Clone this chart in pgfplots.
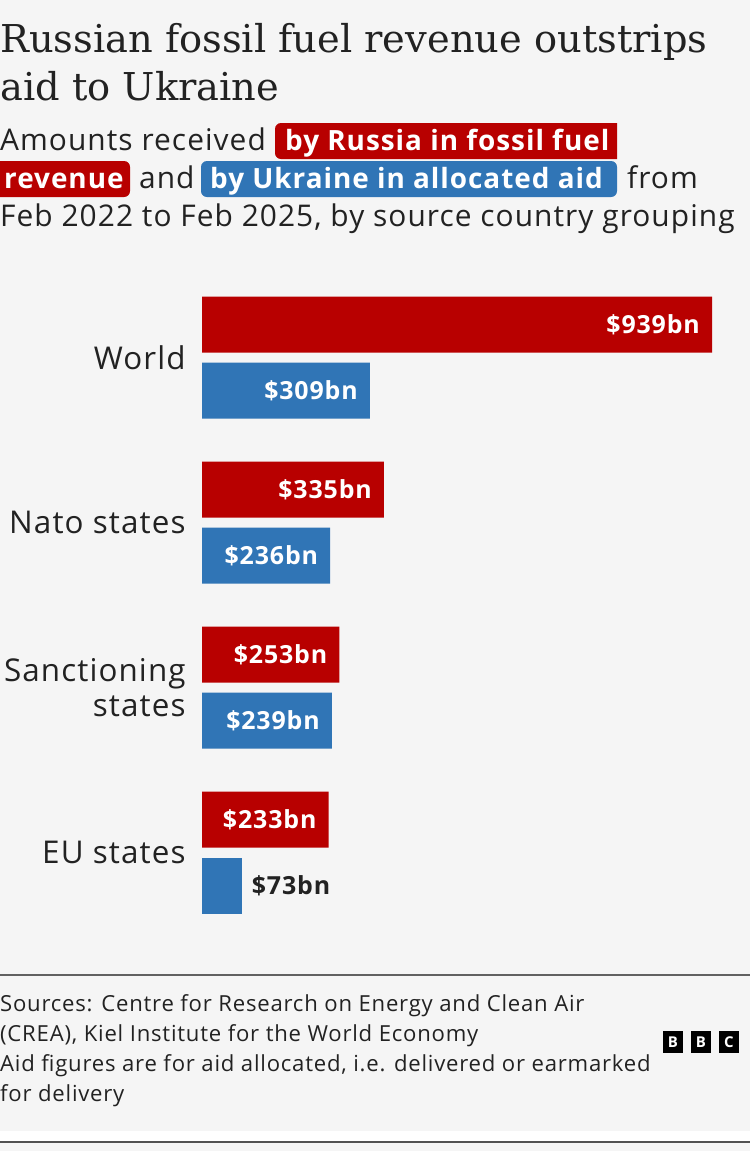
\documentclass[border=0pt]{standalone}
\usepackage{pgfplots}
\pgfplotsset{compat=1.18}
\usepackage{fontspec}
\setmainfont{Open Sans}[LetterSpace=3.5]
\newfontfamily\titlefont{DejaVu Serif}
\definecolor{bbcred}{HTML}{B80000}
\definecolor{bbcblue}{HTML}{3075B6}
\definecolor{bgcol}{HTML}{F5F5F5}
\definecolor{ink}{HTML}{222222}

\newcommand{\sub}{\fontsize{30}{38}\selectfont}
\newcommand{\subb}{\fontsize{28}{38}\selectfont\bfseries}
\newcommand{\foot}{\fontsize{22.2}{30}\selectfont}

\begin{document}
\begin{tikzpicture}[x=1bp,y=-1bp]
\useasboundingbox (0,0) rectangle (750,1151);
% background and rules
\fill[bgcol] (0,0) rectangle (750,1131);
\fill[white] (0,1131) rectangle (750,1151);
\fill[bgcol] (0,1143) rectangle (750,1151);
\fill[black!62] (0,974) rectangle (750,976);
\fill[black!68] (0,1141) rectangle (750,1143);

% title
\node[anchor=base west, inner sep=0, text=ink, font=\titlefont\fontsize{38.5}{48}\selectfont] at (0,52) {Russian fossil fuel revenue outstrips};
\node[anchor=base west, inner sep=0, text=ink, font=\titlefont\fontsize{38.5}{48}\selectfont] at (0,100) {aid to Ukraine};

% subtitle highlight boxes
\fill[bbcred] (617,123) [rounded corners=6] -- (275,123) -- (275,159) [sharp corners] -- (617,159) -- cycle;
\fill[bbcred] (0,161) [rounded corners=6] -- (130,161) -- (130,197) [sharp corners] -- (0,197) -- cycle;
\fill[bbcblue, rounded corners=6] (201,161) rectangle (617,197);

% subtitle text
\node[anchor=base west, inner sep=0, text=ink, font=\sub] at (0,150) {Amounts received};
\node[anchor=base west, inner sep=0, text=white, font=\subb] at (285,150) {by Russia in fossil fuel};
\node[anchor=base west, inner sep=0, text=white, font=\subb] at (4,188) {revenue};
\node[anchor=base west, inner sep=0, text=ink, font=\sub] at (139,188) {and};
\node[anchor=base west, inner sep=0, text=white, font=\subb] at (210,188) {by Ukraine in allocated aid};
\node[anchor=base west, inner sep=0, text=ink, font=\sub] at (627,188) {from};
\node[anchor=base west, inner sep=0, text=ink, font=\sub] at (0,226) {Feb 2022 to Feb 2025, by source country grouping};

% chart
\begin{axis}[
  at={(202bp,-935bp)}, anchor=south west,
  scale only axis, width=510bp, height=660bp,
  xmin=0, xmax=939, ymin=-0.5, ymax=3.5,
  y dir=reverse,
  xbar, bar width=0.3394,
  axis line style={draw=none}, tick style={draw=none},
  xtick=\empty,
  ytick={0,1,2,3},
  yticklabels={World, Nato states, Sanctioning\\states, EU states},
  yticklabel style={anchor=east, inner sep=0pt, xshift=-12bp, align=right, text=ink,
    font=\fontsize{31.5}{35}\selectfont},
  point meta=explicit symbolic,
  nodes near coords={\$\pgfplotspointmeta bn},
  every node near coord/.append style={anchor=east, xshift=-12bp, inner sep=0pt,
    text=white, font=\fontsize{25}{30}\selectfont\bfseries},
  clip=false,
]
\addplot[fill=bbcred, draw=none, bar shift=-0.2] coordinates {
  (939,0) [939] (335,1) [335] (253,2) [253] (233,3) [233]};
\addplot[fill=bbcblue, draw=none, bar shift=0.2] coordinates {
  (309,0) [309] (236,1) [236] (239,2) [239]};
\addplot[fill=bbcblue, draw=none, bar shift=0.2,
  every node near coord/.append style={anchor=west, xshift=22bp, text=ink}] coordinates {
  (73,3) [73]};
\end{axis}

% footer
\node[anchor=base west, inner sep=0, text=ink, font=\foot] at (0,1011) {Sources: Centre for Research on Energy and Clean Air};
\node[anchor=base west, inner sep=0, text=ink, font=\foot] at (0,1041) {(CREA), Kiel Institute for the World Economy};
\node[anchor=base west, inner sep=0, text=ink, font=\foot] at (0,1071) {Aid figures are for aid allocated, i.e. delivered or earmarked};
\node[anchor=base west, inner sep=0, text=ink, font=\foot] at (0,1101) {for delivery};

% BBC blocks
\foreach \x/\l in {663/B, 691/B, 719/C} {
  \fill[black] (\x,1031) rectangle ++(20,22);
  \node[text=white, inner sep=0, font=\fontsize{15}{15}\selectfont\bfseries] at (\x+10,1042) {\l};
}
\end{tikzpicture}
\end{document}
